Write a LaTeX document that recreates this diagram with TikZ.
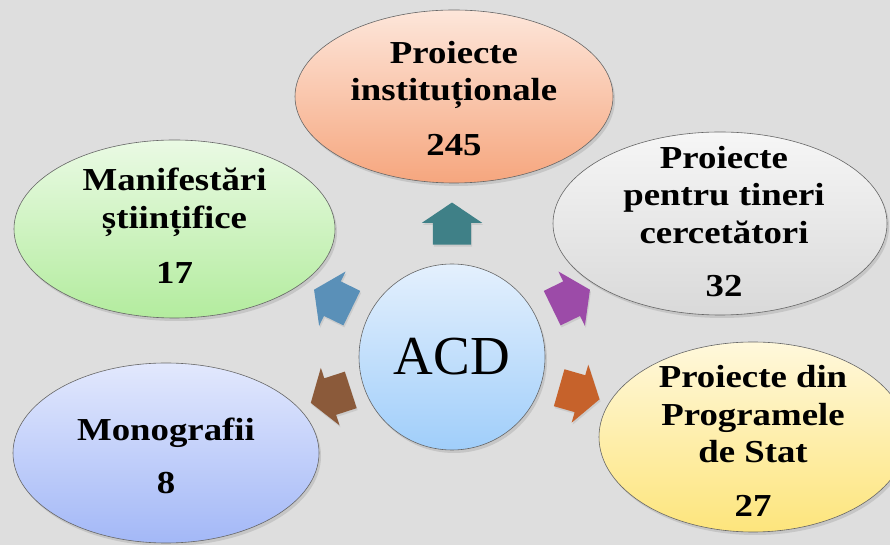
\documentclass[tikz,border=0pt]{standalone}
\usepackage{fontspec}
\setmainfont{Liberation Serif}
\newfontfamily\lblfont[FakeStretch=1.15]{Liberation Serif}
\usepackage{xcolor}
\usepackage{tikz}
\usetikzlibrary{shapes.geometric,shapes.arrows,shadows,calc}
\definecolor{bggray}{HTML}{DEDEDE}
\definecolor{instA}{HTML}{FDE6DA}\definecolor{instB}{HTML}{F6A67E}
\definecolor{tinA}{HTML}{F6F6F6}\definecolor{tinB}{HTML}{D9D9D9}
\definecolor{statA}{HTML}{FFF8DC}\definecolor{statB}{HTML}{FDE57C}
\definecolor{monoA}{HTML}{E2E8FD}\definecolor{monoB}{HTML}{A3B8F7}
\definecolor{manA}{HTML}{EAFAE4}\definecolor{manB}{HTML}{B3EC9E}
\definecolor{acdA}{HTML}{E4F0FD}\definecolor{acdB}{HTML}{A0CEFA}
\definecolor{arTeal}{HTML}{3F8087}
\definecolor{arPurple}{HTML}{9C4BA8}
\definecolor{arOrange}{HTML}{C6622B}
\definecolor{arBrown}{HTML}{8B5A3A}
\definecolor{arBlue}{HTML}{5A90B8}
\begin{document}
\begin{tikzpicture}[x=1pt,y=1pt,
bubble/.style={ellipse,draw=black!60,line width=0.6pt,inner sep=0pt,
  drop shadow={opacity=0.25,shadow xshift=2pt,shadow yshift=-3pt}},
lbl/.style={align=center,inner sep=0pt,font=\lblfont\bfseries\fontsize{32}{37.5}\selectfont},
blk/.style={single arrow,single arrow head extend=11pt,single arrow tip angle=112,
  minimum height=42pt,minimum width=60pt,inner sep=0pt,draw=none,
  drop shadow={opacity=0.2,shadow xshift=1pt,shadow yshift=-2pt}}]
\fill[bggray](0,0)rectangle(890,545);
\useasboundingbox(0,0)rectangle(890,545);
\node[bubble,minimum width=318pt,minimum height=173pt,top color=instA,bottom color=instB](inst)at(454,448.5){};
\node[bubble,minimum width=334pt,minimum height=183pt,top color=tinA,bottom color=tinB](tin)at(720,321.5){};
\node[bubble,minimum width=308pt,minimum height=190pt,top color=statA,bottom color=statB](stat)at(753,108){};
\node[bubble,minimum width=306pt,minimum height=180pt,top color=monoA,bottom color=monoB](mono)at(166,92){};
\node[bubble,minimum width=321pt,minimum height=178pt,top color=manA,bottom color=manB](manif)at(174.5,316){};
\node[lbl,yshift=-2pt](instT)at(inst){Proiecte\\instituționale\\[17pt]245};
\node[lbl,xshift=4pt,yshift=2pt](tinT)at(tin){Proiecte\\pentru tineri\\cercetători\\[16pt]32};
\node[lbl,yshift=-4pt](statT)at(stat){Proiecte din\\Programele\\de Stat\\[16pt]27};
\node[lbl,yshift=-3pt](monoT)at(mono){Monografii\\[15pt]8};
\node[lbl,yshift=3pt](manifT)at(manif){Manifestări\\științifice\\[18pt]17};
\node[circle,minimum size=186pt,draw=black!60,line width=0.6pt,top color=acdA,bottom color=acdB,
  inner sep=0pt,font=\fontsize{55}{60}\selectfont,
  drop shadow={opacity=0.25,shadow xshift=2pt,shadow yshift=-3pt}](acd)at(452,188){ACD};
\node[blk,fill=arTeal,rotate=90](a1)at($(acd)+(90:127pt)$){\rule{0pt}{38pt}};
\node[blk,fill=arPurple,rotate=26](a2)at($(acd)+(26:126pt)$){\rule{0pt}{38pt}};
\node[blk,fill=arOrange,rotate=-16](a3)at($(acd)+(-16:126pt)$){\rule{0pt}{38pt}};
\node[blk,fill=arBrown,rotate=198](a4)at($(acd)+(198:121pt)$){\rule{0pt}{38pt}};
\node[blk,fill=arBlue,rotate=154](a5)at($(acd)+(154:126pt)$){\rule{0pt}{38pt}};
\end{tikzpicture}
\end{document}
